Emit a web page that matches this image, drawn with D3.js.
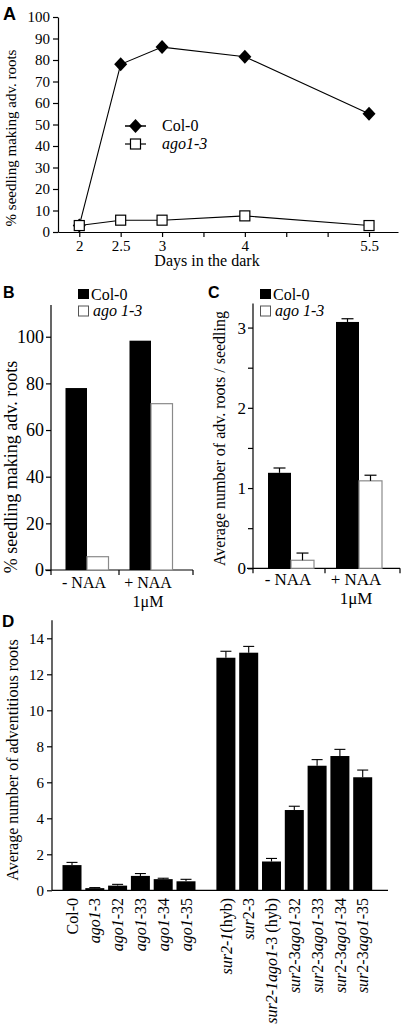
<!DOCTYPE html>
<html><head><meta charset="utf-8">
<script src="https://cdn.jsdelivr.net/npm/d3@7"></script>
<style>
body{margin:0;background:#fff}
svg{display:block}
text{font-family:"Liberation Serif","Times New Roman",serif;fill:#000}
.lbl{font-family:"Liberation Sans",Arial,sans-serif;font-weight:bold}
</style>
</head><body>
<svg id="c" width="404" height="1029"></svg>
<script>
// ---------- DATA ----------
// Panel A
const daysA = [2, 2.5, 3, 4, 5.5];
const col0A = [3, 78, 86, 81.5, 55];
const ago13A = [3, 5.5, 5.5, 7.5, 3];
const yTicksA = [0, 10, 20, 30, 40, 50, 60, 70, 80, 90, 100];
const xTicksA = [2, 2.5, 3, 3.5, 4, 4.5, 5, 5.5];
const xTickLabelsA = [2, 2.5, 3, 4, 5.5];
// Panels B, C
const treatments = ["- NAA", "+ NAA"];
const treatmentSub = ["", "1\u03BCM"];
const seriesBC = ["Col-0", "ago 1-3"];
const col0B = [78, 98.3];
const ago13B = [5.7, 71.3];
const yTicksB = [0, 20, 40, 60, 80, 100];
const col0C = [1.19, 3.07];
const col0CErr = [0.06, 0.04];
const ago13C = [0.1, 1.09];
const ago13CErr = [0.09, 0.07];
const yTicksC = [0, 0.5, 1, 1.5, 2, 2.5, 3];
const yTickLabelsC = [0, 1, 2, 3];
// Panel D (segments between * are italic)
const genotypesD = ["Col-0", "*ago1*-3", "*ago1*-32", "*ago1*-33", "*ago1*-34", "*ago1*-35",
  "*sur2-1*(hyb)", "*sur*2-3", "*sur2-1ago1*-3 (hyb)", "*sur*2-3*ago1*-32", "*sur*2-3*ago1*-33",
  "*sur*2-3*ago1*-34", "*sur*2-3*ago1*-35"];
const meanD = [1.4, 0.12, 0.26, 0.8, 0.62, 0.5, 12.92, 13.2, 1.6, 4.46, 6.92, 7.46, 6.28];
const errD = [0.15, 0.03, 0.07, 0.13, 0.05, 0.11, 0.36, 0.35, 0.17, 0.21, 0.34, 0.37, 0.4];
const yTicksD = [0, 2, 4, 6, 8, 10, 12, 14];
const groupBreakD = 6;

// ---------- DRAW ----------
const svg = d3.select("#c");
function styleAxis(g, fs) {
  g.selectAll("path.domain").attr("stroke", "#000").attr("stroke-width", 1.2);
  g.selectAll(".tick line").attr("stroke", "#000").attr("stroke-width", 1.2);
  g.selectAll(".tick text").attr("font-family", '"Liberation Serif","Times New Roman",serif')
    .attr("font-size", fs).attr("fill", "#000");
}
function panelLabel(t, x, y, fs) {
  svg.append("text").attr("class", "lbl").attr("x", x).attr("y", y).attr("font-size", fs).text(t);
}
function vTitle(t, x, y, fs) {
  svg.append("text").attr("transform", `translate(${x},${y}) rotate(-90)`)
    .attr("text-anchor", "middle").attr("font-size", fs).text(t);
}

// ===== Panel A =====
{
  const x = d3.scaleLinear([1.743, 5.85], [58, 398]);
  const y = d3.scaleLinear([0, 100], [232, 17]);
  const gy = svg.append("g").attr("transform", `translate(58,0)`)
    .call(d3.axisLeft(y).tickValues(yTicksA).tickSize(5).tickPadding(3).tickSizeOuter(0));
  styleAxis(gy, 15);
  const gx = svg.append("g").attr("transform", `translate(0,232)`)
    .call(d3.axisBottom(x).tickValues(xTicksA).tickSize(5).tickPadding(3).tickSizeOuter(0)
      .tickFormat(d => xTickLabelsA.includes(d) ? d : ""));
  styleAxis(gx, 15);
  const line = d3.line().x((d, i) => x(daysA[i])).y(d => y(d));
  svg.append("path").datum(ago13A).attr("d", line).attr("fill", "none").attr("stroke", "#000").attr("stroke-width", 1.1);
  svg.append("path").datum(col0A).attr("d", line).attr("fill", "none").attr("stroke", "#000").attr("stroke-width", 1.1);
  const dia = d3.symbol().type(d3.symbolDiamond2).size(95);
  const diamond = (cx, cy) => `M${cx},${cy - 7}L${cx + 6.5},${cy}L${cx},${cy + 7}L${cx - 6.5},${cy}Z`;
  svg.selectAll(".dA").data(col0A).join("path").attr("d", (d, i) => diamond(x(daysA[i]), y(d))).attr("fill", "#000");
  svg.selectAll(".sA").data(ago13A).join("rect")
    .attr("x", (d, i) => x(daysA[i]) - 5).attr("y", d => y(d) - 5).attr("width", 10).attr("height", 10)
    .attr("fill", "#fff").attr("stroke", "#000").attr("stroke-width", 1.2);
  // legend
  svg.append("line").attr("x1", 125).attr("x2", 146).attr("y1", 126).attr("y2", 126).attr("stroke", "#000").attr("stroke-width", 1.5);
  svg.append("path").attr("d", diamond(135.5, 126)).attr("fill", "#000");
  svg.append("text").attr("x", 162).attr("y", 131).attr("font-size", 16).text("Col-0");
  svg.append("line").attr("x1", 125).attr("x2", 146).attr("y1", 144).attr("y2", 144).attr("stroke", "#000").attr("stroke-width", 1.2);
  svg.append("rect").attr("x", 130.5).attr("y", 139).attr("width", 10).attr("height", 10).attr("fill", "#fff").attr("stroke", "#000").attr("stroke-width", 1.2);
  svg.append("text").attr("x", 162).attr("y", 149).attr("font-size", 16).attr("font-style", "italic").text("ago1-3");
  vTitle("% seedling making adv. roots", 16, 138, 15);
  svg.append("text").attr("x", 207).attr("y", 266).attr("text-anchor", "middle").attr("font-size", 16).text("Days in the dark");
  panelLabel("A", 3, 20, 18);
}

// ===== Panels B & C =====
function barPanel(o) {
  const y = d3.scaleLinear([0, o.yMax], [o.y0, o.yTop]);
  const x0 = d3.scaleBand(treatments, o.bandRange);
  const x1 = d3.scaleBand(seriesBC, [0, o.groupW]);
  const gy = svg.append("g").attr("transform", `translate(${o.axX},0)`)
    .call(d3.axisLeft(y).tickValues(o.yTicks).tickSize(5).tickPadding(2).tickSizeOuter(0)
      .tickFormat(d => o.yLabels.includes(d) ? d : ""));
  styleAxis(gy, o.tickFs);
  gy.select("path.domain").attr("d", `M0,${o.y0}V${o.axTop}`);
  // x axis line + ticks at band edges
  svg.append("line").attr("x1", o.axX - 6).attr("x2", o.axRight).attr("y1", o.y0).attr("y2", o.y0).attr("stroke", "#000").attr("stroke-width", 1.2);
  const edges = [o.axX, (x0(treatments[0]) + x0.bandwidth() + x0(treatments[1])) / 2, o.axRight];
  svg.selectAll(null).data(edges).join("line").attr("x1", d => d).attr("x2", d => d)
    .attr("y1", o.y0).attr("y2", o.y0 + 5).attr("stroke", "#000").attr("stroke-width", 1.2);
  const vals = [o.col0, o.ago];
  const errs = [o.col0Err, o.agoErr];
  treatments.forEach((t, ti) => {
    const gx = x0(t) + (x0.bandwidth() - o.groupW) / 2;
    seriesBC.forEach((s, si) => {
      const v = vals[si][ti];
      svg.append("rect").attr("x", gx + x1(s)).attr("y", y(v)).attr("width", x1.bandwidth())
        .attr("height", o.y0 - y(v))
        .attr("fill", si === 0 ? "#000" : "#fff").attr("stroke", si === 0 ? "#000" : "#8a8a8a").attr("stroke-width", si === 0 ? 0 : 1.2);
      if (errs[si]) {
        const cx = gx + x1(s) + x1.bandwidth() / 2;
        const top = y(v + errs[si][ti]);
        svg.append("line").attr("x1", cx).attr("x2", cx).attr("y1", y(v)).attr("y2", top).attr("stroke", "#000").attr("stroke-width", 1.2);
        svg.append("line").attr("x1", cx - 6).attr("x2", cx + 6).attr("y1", top).attr("y2", top).attr("stroke", "#000").attr("stroke-width", 1.2);
      }
    });
    const cx = x0(t) + x0.bandwidth() / 2 - 3;
    svg.append("text").attr("x", cx).attr("y", o.labY).attr("text-anchor", "middle").attr("font-size", o.labFs).text(t);
    if (treatmentSub[ti]) svg.append("text").attr("x", cx).attr("y", o.labY + 19).attr("text-anchor", "middle").attr("font-size", o.labFs).text(treatmentSub[ti]);
  });
  // legend
  svg.append("rect").attr("x", o.legX).attr("y", 289).attr("width", 11).attr("height", 10).attr("fill", "#000");
  svg.append("text").attr("x", o.legX + 13).attr("y", 300).attr("font-size", 16).text(seriesBC[0]);
  svg.append("rect").attr("x", o.legX + 0.5).attr("y", 306).attr("width", 10).attr("height", 10).attr("fill", "#fff").attr("stroke", "#555").attr("stroke-width", 1);
  svg.append("text").attr("x", o.legX + 15).attr("y", 316).attr("font-size", 16).attr("font-style", "italic").text(seriesBC[1]);
  vTitle(o.title, o.titleX, o.titleY, o.titleFs);
  panelLabel(o.letter, o.letX, 298, 16);
}
barPanel({yMax: 113.6, y0: 570, yTop: 305, axTop: 305, axX: 51, axRight: 193, bandRange: [55, 183], groupW: 43,
  yTicks: yTicksB, yLabels: yTicksB, tickFs: 18, col0: col0B, ago: ago13B, col0Err: null, agoErr: null,
  labY: 588, labFs: 16, legX: 78, title: "% seedling making adv. roots", titleX: 17, titleY: 467, titleFs: 18, letter: "B", letX: 3});
barPanel({yMax: 3.3, y0: 568.3, yTop: 303.5, axTop: 303.5, axX: 253, axRight: 400, bandRange: [257, 393], groupW: 46,
  yTicks: yTicksC, yLabels: yTickLabelsC, tickFs: 17, col0: col0C, ago: ago13C, col0Err: col0CErr, agoErr: ago13CErr,
  labY: 585, labFs: 17, legX: 260, title: "Average number of adv. roots / seedling", titleX: 225, titleY: 438.5, titleFs: 16, letter: "C", letX: 208});

// ===== Panel D =====
{
  const y = d3.scaleLinear([0, 15], [890.3, 620.3]);
  const pos = i => i + (i >= groupBreakD ? 0.75 : 0);
  const x = d3.scaleLinear([0, 12.75], [72, 362.7]);
  const bw = 19;
  const gy = svg.append("g").attr("transform", `translate(52,0)`)
    .call(d3.axisLeft(y).tickValues(yTicksD).tickSize(5).tickPadding(3).tickSizeOuter(0));
  styleAxis(gy, 15);
  gy.select("path.domain").attr("d", `M0,${890.3}V${620.3}`);
  svg.append("line").attr("x1", 52).attr("x2", 388).attr("y1", 890.3).attr("y2", 890.3).attr("stroke", "#000").attr("stroke-width", 1.2);
  meanD.forEach((v, i) => {
    const cx = x(pos(i));
    const top = y(v + errD[i]);
    svg.append("line").attr("x1", cx).attr("x2", cx).attr("y1", y(v)).attr("y2", top).attr("stroke", "#000").attr("stroke-width", 1.1);
    svg.append("line").attr("x1", cx - 5.5).attr("x2", cx + 5.5).attr("y1", top).attr("y2", top).attr("stroke", "#000").attr("stroke-width", 1.1);
    svg.append("rect").attr("x", cx - bw / 2).attr("y", y(v)).attr("width", bw).attr("height", 890.3 - y(v)).attr("fill", "#000");
    const t = svg.append("text").attr("transform", `translate(${cx},898) rotate(-90)`)
      .attr("text-anchor", "end").attr("dy", "0.35em").attr("font-size", 16);
    genotypesD[i].split("*").forEach((seg, k) => {
      if (seg) t.append("tspan").attr("font-style", k % 2 ? "italic" : "normal").text(seg);
    });
  });
  vTitle("Average number of adventitious roots", 18, 760, 16);
  panelLabel("D", 2, 627, 17);
}
</script>
</body></html>
